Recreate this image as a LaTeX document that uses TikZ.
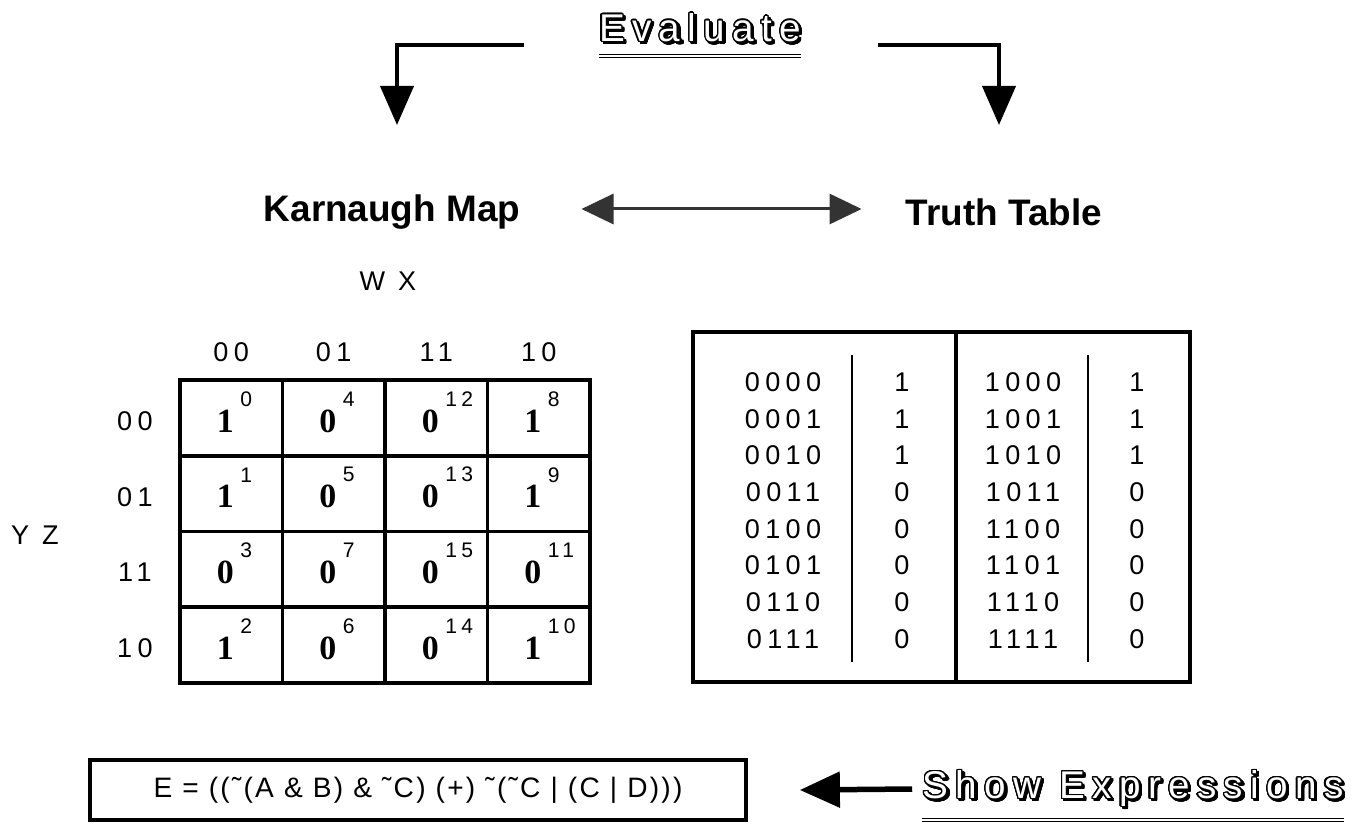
\documentclass[tikz,border=0pt]{standalone}
\usepackage{fontspec}
\setmainfont{Liberation Sans}
\newfontfamily\thinfont[LetterSpace=20]{Liberation Sans}
\newfontfamily\exprfont[LetterSpace=8]{Liberation Sans}
\newfontfamily\wideout[LetterSpace=19]{Liberation Sans}
\newfontfamily\cellfont{Liberation Serif}
\usepackage[copies]{contour}
\contourlength{0.7pt}
\contournumber{24}
\usetikzlibrary{arrows.meta}

\newcommand{\hollow}[1]{\textcolor{white}{\contour{black}{#1}}}
\newcommand{\tl}{\symbol{"02DC}}

\begin{document}
\begin{tikzpicture}[x=0.2mm,y=-0.2mm,
  bigarrow/.style={line width=0.8mm,-{Triangle[width=6.6mm,length=7.8mm]}},
  dblarrow/.style={black!80,line width=0.6mm,{Triangle[width=6mm,length=6.4mm]}-{Triangle[width=6mm,length=6.4mm]}},
  backarrow/.style={line width=1.1mm,-{Triangle[width=7mm,length=8mm]}},
  title/.style={font=\bfseries\fontsize{21}{24}\selectfont,inner sep=0pt},
  button/.style={font=\wideout\fontsize{22}{25}\selectfont,inner sep=0pt},
  shade/.style={button,xshift=0.45mm,yshift=-0.45mm},
  lbl/.style={font=\thinfont\fontsize{15.4}{18}\selectfont,inner sep=0pt},
  kval/.style={font=\cellfont\bfseries\fontsize{19.3}{21}\selectfont,inner sep=0pt},
  kidx/.style={font=\thinfont\fontsize{12}{14}\selectfont,inner sep=0pt,anchor=south west},
  frame/.style={line width=0.75mm}]
\useasboundingbox (0,0) rectangle (1366,824);

% evaluate button and its two arrows
\node[shade] (evalshade) at (700,28) {\contour{black}{Evaluate}};
\node[button] (eval) at (700,28) {\hollow{Evaluate}};
\draw[line width=0.9mm] ([yshift=-2.6mm]eval.south west) -- ([yshift=-2.6mm]eval.south east);
\draw[white,line width=0.3mm] ([yshift=-2.6mm]eval.south west) -- ([yshift=-2.6mm]eval.south east);
\coordinate (ltail) at (524,45);
\coordinate (ltip) at (397,125);
\coordinate (rtail) at (878,45);
\coordinate (rtip) at (999,125);
\draw[bigarrow] (ltail) -| (ltip);
\draw[bigarrow] (rtail) -| (rtip);

% titles
\node[title] (karn) at (392,212) {Karnaugh Map};
\node[title] (truth) at (1004,212) {Truth Table};
\draw[dblarrow] ([xshift=12.2mm,yshift=0.6mm]karn.east) -- ([xshift=-8.8mm,yshift=0.6mm]truth.west);

% karnaugh map
\node[lbl] (wx) at (388,281) {W X};
\node[lbl] (yz) at (35,535) {Y Z};
\foreach \h [count=\c from 0] in {00,01,11,10}
  \node[lbl] (col\h) at ({231.25+102.5*\c},352) {\h};
\foreach \h [count=\r from 0] in {00,01,11,10}
  \node[lbl] (row\h) at (135,{421+75.75*\r}) {\h};
\draw[frame] (180,380) rectangle (590,683);
\foreach \x in {282.5,385,487.5}
  \draw[frame] (\x,380) -- (\x,683);
\foreach \y in {455.75,531.5,607.25}
  \draw[frame] (180,\y) -- (590,\y);
\foreach \v/\m [count=\k from 0] in {1/0,0/4,0/12,1/8,1/1,0/5,0/13,1/9,0/3,0/7,0/15,0/11,1/2,0/6,0/14,1/10} {
  \pgfmathsetmacro\cx{225.25+102.5*mod(\k,4)}
  \pgfmathsetmacro\cy{421+75.75*int(\k/4)}
  \node[kval] (v\m) at (\cx,\cy) {\v};
  \node[kidx] (n\m) at ([xshift=1.2mm,yshift=0.5mm]v\m.north east) {\m};
}

% truth table
\draw[frame] (693,332) rectangle (1190,682);
\draw[frame] (956,332) -- (956,682);
\draw[line width=0.4mm] (852,355) -- (852,662) (1088,355) -- (1088,662);
\foreach \b/\f [count=\r from 0] in {0000/1,0001/1,0010/1,0011/0,0100/0,0101/0,0110/0,0111/0} {
  \node[lbl] (ta\b) at (783,{382+36.7*\r}) {\b};
  \node[lbl] (fa\b) at (902,{382+36.7*\r}) {\f};
}
\foreach \b/\f [count=\r from 0] in {1000/1,1001/1,1010/1,1011/0,1100/0,1101/0,1110/0,1111/0} {
  \node[lbl] (tb\b) at (1023,{382+36.7*\r}) {\b};
  \node[lbl] (fb\b) at (1137,{382+36.7*\r}) {\f};
}

% expression and show button
\node[draw,frame,font=\exprfont\fontsize{16}{18}\selectfont,minimum width=131.2mm,minimum height=12mm,inner sep=0pt] (expr) at (418,790)
  {E = ((\tl(A \& B) \& \tl C) (+) \tl(\tl C | (C | D)))};
\node[shade] (showshade) at (1133,789) {\contour{black}{Show Expressions}};
\node[button] (show) at (1133,789) {\hollow{Show Expressions}};
\draw[line width=0.9mm] ([yshift=-2.4mm]show.south west) -- ([yshift=-2.4mm]show.south east);
\draw[white,line width=0.3mm] ([yshift=-2.4mm]show.south west) -- ([yshift=-2.4mm]show.south east);
\draw[backarrow] ([xshift=-2mm]show.west) -- ([xshift=10.4mm]expr.east);
\end{tikzpicture}
\end{document}
